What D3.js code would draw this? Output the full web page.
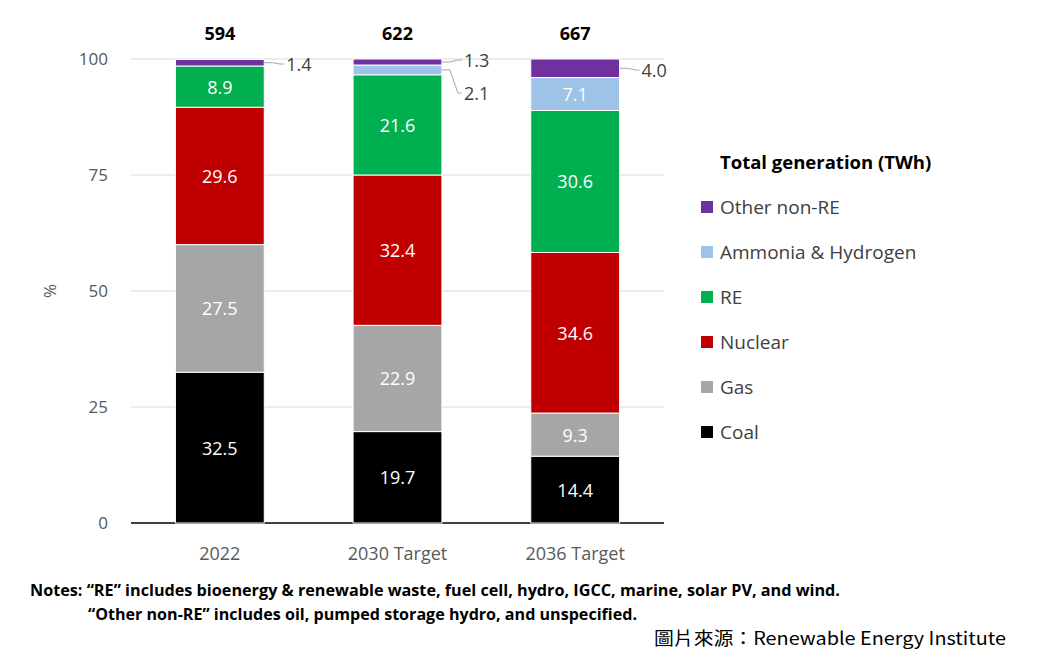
<!DOCTYPE html>
<html><head><meta charset="utf-8">
<script src="https://cdn.jsdelivr.net/npm/d3@7"></script>
<style>body{margin:0;background:#fff}</style>
</head><body>
<svg id="c" width="1050" height="651"></svg>
<script>
const categories = ["2022", "2030 Target", "2036 Target"];
const totals = [594, 622, 667];
const seriesNames = ["Coal", "Gas", "Nuclear", "RE", "Ammonia & Hydrogen", "Other non-RE"];
const coal = [32.5, 19.7, 14.4];
const gas = [27.5, 22.9, 9.3];
const nuclear = [29.6, 32.4, 34.6];
const re = [8.9, 21.6, 30.6];
const ammonia = [0, 2.1, 7.1];
const other = [1.4, 1.3, 4.0];
const yTicks = [0, 25, 50, 75, 100];
const colors = ["#000000", "#a6a6a6", "#c00000", "#00b050", "#9dc3e6", "#7030a0"];

const seriesVals = [coal, gas, nuclear, re, ammonia, other];
const rows = categories.map((c, i) => {
  const r = {cat: c};
  seriesNames.forEach((s, j) => r[s] = seriesVals[j][i]);
  return r;
});
const stack = d3.stack().keys(seriesNames)(rows);

const svg = d3.select("#c");
const F = "'Open Sans', sans-serif";
const x = d3.scaleBand().domain(categories).range([131, 664]).paddingInner(0.5).paddingOuter(0.25);
const y = d3.scaleLinear().domain([0, 100]).range([523, 59]);

svg.selectAll(".g").data(yTicks.filter(d => d > 0)).join("line")
  .attr("x1", 131).attr("x2", 664).attr("y1", d => y(d)).attr("y2", d => y(d))
  .attr("stroke", "#d9d9d9").attr("stroke-width", 1);
svg.append("line").attr("x1", 131).attr("x2", 664).attr("y1", y(0)).attr("y2", y(0)).attr("stroke", "#000").attr("stroke-width", 1.5);

svg.selectAll(".yt").data(yTicks).join("text")
  .attr("x", 108).attr("y", d => y(d) + 6).attr("text-anchor", "end")
  .attr("font-family", F).attr("font-size", 17).attr("fill", "#595959").text(d => d);
svg.append("text").attr("transform", "translate(56,291) rotate(-90)").attr("text-anchor", "middle")
  .attr("font-family", F).attr("font-size", 17).attr("fill", "#595959").text("%");

svg.selectAll(".xt").data(categories).join("text")
  .attr("x", d => x(d) + x.bandwidth() / 2).attr("y", 560).attr("text-anchor", "middle")
  .attr("font-family", F).attr("font-size", 18).attr("fill", "#595959").text(d => d);

svg.selectAll(".tot").data(categories).join("text")
  .attr("x", d => x(d) + x.bandwidth() / 2).attr("y", 40).attr("text-anchor", "middle")
  .attr("font-family", F).attr("font-weight", "bold").attr("font-size", 18).text((d, i) => totals[i]);

stack.forEach((layer, j) => {
  svg.selectAll(".b" + j).data(layer).join("rect")
    .attr("x", d => x(d.data.cat)).attr("width", x.bandwidth())
    .attr("y", d => y(d[1])).attr("height", d => y(d[0]) - y(d[1]))
    .attr("fill", colors[j]).attr("stroke", "#fff").attr("stroke-width", 1);
  layer.forEach((d, i) => {
    const v = d[1] - d[0];
    if (v <= 0) return;
    const cx = x(d.data.cat) + x.bandwidth() / 2, cy = (y(d[0]) + y(d[1])) / 2;
    if (v >= 5) {
      svg.append("text").attr("x", cx).attr("y", cy + 7).attr("text-anchor", "middle")
        .attr("font-family", F).attr("font-size", 18).attr("fill", "#fff").text(v.toFixed(1));
    }
  });
});

const callouts = [
  {ci: 0, s: 5, ty: 64},
  {ci: 1, s: 5, ty: 60},
  {ci: 1, s: 4, ty: 93},
  {ci: 2, s: 5, ty: 70}
];
callouts.forEach(c => {
  const d = stack[c.s][c.ci];
  const v = d[1] - d[0];
  const ex = x(categories[c.ci]) + x.bandwidth();
  const my = (y(d[0]) + y(d[1])) / 2;
  svg.append("polyline").attr("points", `${ex},${my} ${ex + 8},${my} ${ex + 16},${c.ty} ${ex + 20},${c.ty}`)
    .attr("fill", "none").attr("stroke", "#a6a6a6").attr("stroke-width", 1);
  svg.append("text").attr("x", ex + 22).attr("y", c.ty + 7).attr("font-family", F).attr("font-size", 18)
    .attr("fill", "#404040").text(v.toFixed(1));
});

svg.append("text").attr("x", 720).attr("y", 169).attr("font-family", F).attr("font-weight", "bold")
  .attr("font-size", 18.5).attr("fill", "#000").text("Total generation (TWh)");
const legOrder = [5, 4, 3, 2, 1, 0];
legOrder.forEach((j, k) => {
  const ly = 207 + k * 45;
  svg.append("rect").attr("x", 701).attr("y", ly - 6).attr("width", 12).attr("height", 12).attr("fill", colors[j]);
  svg.append("text").attr("x", 720).attr("y", ly + 7).attr("font-family", F).attr("font-size", 19)
    .attr("fill", "#404040").text(seriesNames[j]);
});

const N = "'Open Sans', sans-serif";
svg.append("text").attr("x", 30).attr("y", 596).attr("font-family", N).attr("font-size", 15.5).attr("font-weight", "bold")
  .attr("textLength", 810).attr("lengthAdjust", "spacingAndGlyphs")
  .text("Notes: \u201cRE\u201d includes bioenergy & renewable waste, fuel cell, hydro, IGCC, marine, solar PV, and wind.");
svg.append("text").attr("x", 88).attr("y", 620).attr("font-family", N).attr("font-size", 15.5).attr("font-weight", "bold")
  .attr("textLength", 549).attr("lengthAdjust", "spacingAndGlyphs")
  .text("\u201cOther non-RE\u201d includes oil, pumped storage hydro, and unspecified.");
svg.append("text").attr("x", 654).attr("y", 645).attr("font-family", "'Noto Sans CJK TC', sans-serif").attr("font-size", 18)
  .attr("textLength", 352).attr("lengthAdjust", "spacingAndGlyphs")
  .text("圖片來源：Renewable Energy Institute");
</script>
</body></html>
